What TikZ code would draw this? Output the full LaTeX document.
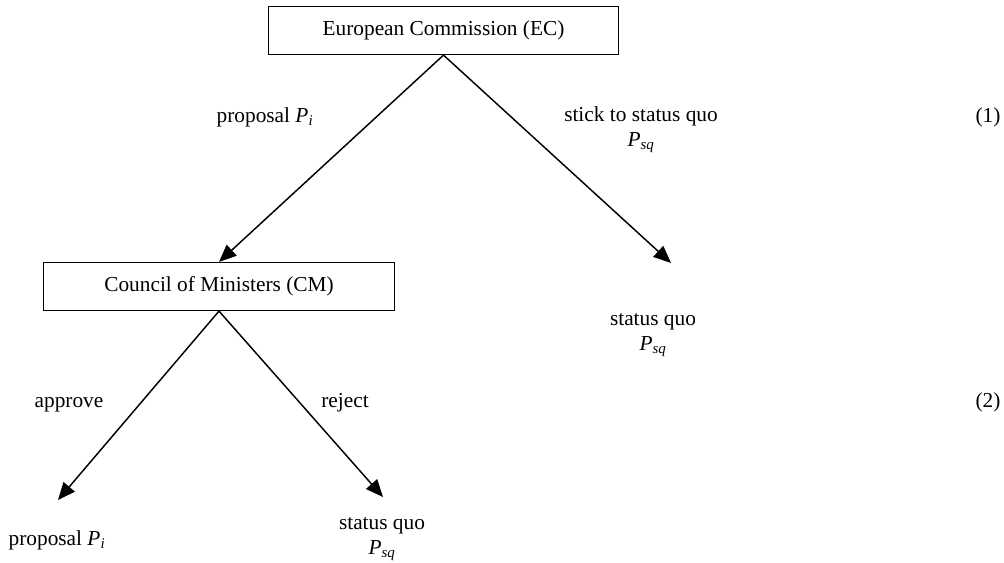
\documentclass[tikz,border=0pt]{standalone}
\usepackage{fontspec}
\setmainfont{Liberation Serif}
\usetikzlibrary{arrows.meta}
\newcommand{\myPsq}{\textit{P}\textsubscript{\textit{sq}}}
\newcommand{\myPi}{\textit{P}\textsubscript{\textit{i}}}
\begin{document}
\begin{tikzpicture}[x=0.75pt,y=-0.75pt,
  every node/.style={font=\fontsize{16}{18.5}\selectfont, inner sep=0pt},
  playerbox/.style={draw, line width=0.9pt, minimum width=263pt, minimum height=36pt},
  lbl/.style={align=center},
  row/.style={anchor=base},
  move/.style={line width=1.1pt, -{Triangle[length=13pt,width=11pt]}}]
\useasboundingbox (0,0) rectangle (1004,562);
\node[playerbox] (ec) at (443.5,30.5) {European Commission (EC)};
\node[playerbox] (cm) at (219,286.5) {Council of Ministers (CM)};
\coordinate (t1) at (671,263);
\coordinate (t2) at (58,500);
\coordinate (t3) at (383,497);
\draw[move] (ec.south) -- (cm.north);
\draw[move] (ec.south) -- (t1);
\draw[move] (cm.south) -- (t2);
\draw[move] (cm.south) -- (t3);
\node[row] (lp) at (265,122) {proposal \myPi};
\node[lbl] (ls) at (641,130) {stick to status quo\\\myPsq};
\node[lbl] (o1) at (653,335) {status quo\\\myPsq};
\node[row] (la) at (69,407) {approve};
\node[row] (lr) at (345,407) {reject};
\node[row] (o2) at (57,545) {proposal \myPi};
\node[lbl] (o3) at (382,539) {status quo\\\myPsq};
\node[row] (n1) at (988,122) {(1)};
\node[row] (n2) at (988,407) {(2)};
\end{tikzpicture}
\end{document}
